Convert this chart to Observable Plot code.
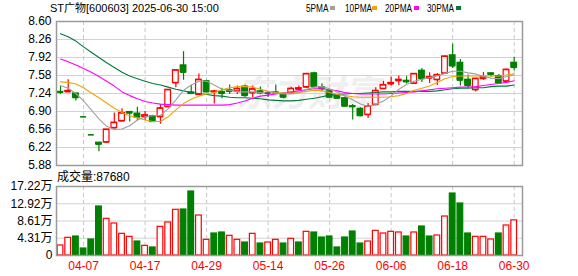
<!DOCTYPE html>
<html><head><meta charset="utf-8">
<script src="https://cdn.jsdelivr.net/npm/d3@7"></script>
<script src="https://cdn.jsdelivr.net/npm/@observablehq/plot@0.6"></script>
<style>
body{margin:0;background:#fff;}
#wrap{position:relative;width:578px;height:276px;overflow:hidden;font-family:"Liberation Sans",Arial,"Noto Sans CJK SC",sans-serif;color:#000;}
.abs{position:absolute;white-space:nowrap;line-height:1;}
.leg{position:absolute;top:3px;font-size:11px;line-height:1;transform:scaleX(0.75);transform-origin:0 0;white-space:nowrap;}
.sq{position:absolute;top:6px;width:5px;height:4px;}
svg{position:absolute;left:0;}
</style></head><body><div id="wrap">
<div class="abs" id="wm" style="left:236px;top:72px;font-size:36px;font-family:'Noto Sans CJK SC';font-weight:bold;font-style:italic;color:#efefef;">东方财富</div>
<div class="abs" id="title" style="left:50px;top:3px;font-size:11px;"></div>
<div class="leg" style="left:306px">5PMA</div><div class="sq" style="left:330px;background:#a0a0a0"></div>
<div class="leg" style="left:345px">10PMA</div><div class="sq" style="left:372px;background:#f0a30a"></div>
<div class="leg" style="left:385px">20PMA</div><div class="sq" style="left:414px;background:#ff00ff"></div>
<div class="leg" style="left:427px">30PMA</div><div class="sq" style="left:456px;background:#007a3d"></div>
<div class="abs" id="vtitle" style="left:57px;top:171px;font-size:12px;"></div>
</div>
<script>
const titleText = "ST广物[600603] 2025-06-30 15:00";
const volTitle = "成交量:87680";

const dates = ["04-01","04-02","04-03","04-07","04-08","04-09","04-10","04-11","04-14","04-15",
"04-16","04-17","04-18","04-21","04-22","04-23","04-24","04-25","04-28","04-29",
"04-30","05-06","05-07","05-08","05-09","05-12","05-13","05-14","05-15","05-16",
"05-19","05-20","05-21","05-22","05-23","05-26","05-27","05-28","05-29","05-30",
"06-03","06-04","06-05","06-06","06-09","06-10","06-11","06-12","06-13","06-16",
"06-17","06-18","06-19","06-20","06-23","06-24","06-25","06-26","06-27","06-30"];

const open = [7.27,7.27,7.24,6.80,6.46,6.31,6.32,6.59,6.72,6.89,
6.86,6.80,6.81,6.80,6.99,7.44,7.77,7.26,7.22,7.47,
7.27,7.27,7.30,7.28,7.37,7.25,7.28,7.25,7.26,7.22,
7.25,7.32,7.36,7.62,7.36,7.28,7.20,7.15,7.00,6.95,
6.84,7.03,7.33,7.42,7.48,7.48,7.43,7.67,7.53,7.50,
7.62,7.96,7.82,7.50,7.31,7.52,7.62,7.57,7.47,7.82];
const high = [7.37,7.50,7.25,6.80,6.46,6.32,6.56,6.87,6.95,6.89,
6.98,6.90,6.83,7.03,7.31,7.68,8.03,7.39,7.61,7.49,
7.30,7.34,7.40,7.38,7.40,7.38,7.36,7.28,7.40,7.25,
7.36,7.38,7.62,7.64,7.42,7.30,7.22,7.16,7.03,6.97,
7.05,7.35,7.47,7.55,7.57,7.56,7.62,7.71,7.63,7.62,
7.95,8.17,7.88,7.59,7.53,7.64,7.63,7.60,7.70,7.92];
const low = [7.22,7.26,7.10,6.80,6.46,6.14,6.31,6.57,6.71,6.70,
6.72,6.73,6.70,6.66,6.97,7.35,7.49,7.22,7.21,7.26,
7.04,7.14,7.22,7.22,7.17,7.16,7.22,7.17,7.24,7.14,
7.24,7.29,7.34,7.35,7.28,7.16,7.13,6.99,6.74,6.80,
6.77,7.01,7.32,7.38,7.39,7.42,7.42,7.45,7.43,7.39,
7.60,7.71,7.38,7.34,7.27,7.49,7.55,7.43,7.45,7.67];
const close = [7.26,7.29,7.16,6.80,6.46,6.28,6.56,6.69,6.87,6.87,
6.79,6.83,6.71,6.96,7.31,7.68,7.64,7.24,7.50,7.27,
7.28,7.24,7.28,7.33,7.20,7.32,7.25,7.25,7.25,7.17,
7.33,7.34,7.61,7.37,7.33,7.17,7.15,7.00,6.99,6.82,
7.00,7.29,7.40,7.44,7.50,7.46,7.61,7.52,7.55,7.59,
7.94,7.76,7.49,7.39,7.52,7.55,7.60,7.44,7.69,7.73];

const ma5 = [7.39,7.34,7.24,7.10,6.93,6.76,6.62,6.56,6.57,6.63,
6.74,6.80,6.82,6.83,6.95,7.12,7.30,7.40,7.47,7.47,
7.40,7.32,7.30,7.27,7.27,7.27,7.26,7.25,7.25,7.23,
7.23,7.25,7.32,7.36,7.37,7.33,7.27,7.19,7.12,7.04,
7.00,7.03,7.10,7.19,7.32,7.41,7.47,7.51,7.54,7.57,
7.62,7.66,7.66,7.63,7.61,7.56,7.53,7.52,7.56,7.59];
const ma10 = [7.46,7.45,7.42,7.35,7.25,7.16,7.06,6.96,6.88,6.82,
6.78,6.74,6.71,6.71,6.80,6.93,7.05,7.13,7.19,7.23,
7.26,7.31,7.35,7.37,7.37,7.36,7.32,7.28,7.26,7.25,
7.25,7.26,7.28,7.30,7.29,7.26,7.22,7.20,7.18,7.17,
7.17,7.17,7.17,7.18,7.20,7.24,7.30,7.34,7.38,7.45,
7.52,7.56,7.57,7.57,7.57,7.57,7.57,7.57,7.59,7.61];
const ma20 = [7.89,7.84,7.78,7.71,7.64,7.56,7.47,7.38,7.27,7.20,
7.14,7.09,7.06,7.04,7.03,7.02,7.02,7.02,7.02,7.02,
7.02,7.02,7.03,7.06,7.10,7.15,7.19,7.21,7.23,7.25,
7.27,7.29,7.31,7.33,7.33,7.31,7.29,7.26,7.24,7.23,
7.23,7.23,7.23,7.24,7.25,7.26,7.27,7.29,7.31,7.33,
7.34,7.35,7.36,7.36,7.37,7.39,7.41,7.43,7.45,7.48];
const ma30 = [8.37,8.31,8.23,8.12,8.02,7.92,7.82,7.73,7.64,7.57,
7.52,7.47,7.43,7.40,7.36,7.32,7.29,7.26,7.24,7.22,
7.20,7.19,7.17,7.16,7.16,7.15,7.14,7.12,7.11,7.10,
7.10,7.11,7.13,7.15,7.18,7.21,7.22,7.23,7.24,7.24,
7.25,7.26,7.27,7.27,7.28,7.28,7.28,7.28,7.28,7.29,
7.31,7.33,7.34,7.34,7.35,7.35,7.37,7.38,7.38,7.40];

const volume = [25000,44100,47400,17500,39900,122300,91500,79900,54100,46600,
34900,24100,20000,71500,82400,114000,114800,159700,99800,39100,
54900,57400,49100,39100,32400,54100,29900,32400,39100,29900,
41600,32400,59100,57400,44900,47400,20000,44900,59900,29900,
34900,61600,54900,59100,57400,47400,57400,72400,47400,49900,
97300,154700,129800,54900,46600,46600,39900,54900,74900,87680];
const volUp = [1,1,0,0,0,0,1,1,1,1, 0,1,0,1,1,1,0,0,1,1,
0,0,1,1,0,1,0,1,1,0, 1,0,1,0,0,0,0,0,0,0,
1,1,1,1,1,0,1,0,0,1, 1,0,0,0,1,1,1,0,1,1];

const priceTicks = [5.88,6.22,6.56,6.90,7.24,7.58,7.92,8.26,8.60];
const volTicks = [0,43050,86100,129150,172200];
const volTickLabels = ["0","4.31万","8.61万","12.92万","17.22万"];
const xTickLabels = ["04-07","04-17","04-29","05-14","05-26","06-06","06-18","06-30"];

// ---- build ----
document.getElementById("title").textContent = titleText;
document.getElementById("vtitle").textContent = volTitle;

const RED = "#ff0000", GREEN = "#008000", BLACK = "#000000";
const idx = d3.range(dates.length);
const tickIdx = xTickLabels.map(s => dates.indexOf(s));
const candles = idx.map(i => {
  let dir;
  if (close[i] > open[i]) dir = "up";
  else if (close[i] < open[i]) dir = "down";
  else if (i > 0 && close[i] < close[i-1]) dir = "down";
  else if (i > 0 && close[i] > close[i-1]) dir = "up";
  else dir = "flat";
  return {i, o: open[i], h: high[i], l: low[i], c: close[i], dir};
});
const col = d => d.dir === "up" ? RED : d.dir === "down" ? GREEN : BLACK;
const bw = 0.37;
const xDomain = [-0.52, 60.08];
const font = '"Liberation Sans", Arial, "Noto Sans CJK SC", sans-serif';

const maLine = (arr, stroke) => Plot.line(idx, {x: i => i, y: i => arr[i], stroke, strokeWidth: 1.1});

const price = Plot.plot({
  width: 578, height: 170,
  marginTop: 21, marginBottom: 5, marginLeft: 56, marginRight: 56,
  style: {background: "transparent", fontSize: "12px", fontFamily: font, color: "#000", overflow: "visible"},
  color: {type: "identity"},
  x: {type: "linear", domain: xDomain, axis: null},
  y: {domain: [5.88, 8.60], ticks: priceTicks, tickFormat: d => d.toFixed(2), tickSize: 0, tickPadding: 5, label: null},
  marks: [
    Plot.gridY(priceTicks, {stroke: "#d2d2d2", strokeOpacity: 1, strokeWidth: 1.2}),
    Plot.ruleX(tickIdx, {stroke: "#c8c8c8", strokeOpacity: 1, strokeDasharray: "4 3"}),
    Plot.ruleX(candles, {x: "i", y1: "l", y2: "h", stroke: col, strokeWidth: 1.2}),
    Plot.rect(candles, {x1: d => d.i - bw, x2: d => d.i + bw, y1: "o", y2: "c",
      fill: d => d.dir === "down" ? GREEN : "#ffffff", stroke: col, strokeWidth: 1.2}),
    Plot.ruleY(candles, {x1: d => d.i - bw, x2: d => d.i + bw, y: "o", stroke: col, strokeWidth: 1.2}),
    Plot.ruleY(candles, {x1: d => d.i - bw, x2: d => d.i + bw, y: "c", stroke: col, strokeWidth: 1.2}),
    maLine(ma30, "#007a3d"),
    maLine(ma20, "#ff00ff"),
    maLine(ma10, "#f0a30a"),
    maLine(ma5, "#a0a0a0"),
    Plot.frame({stroke: "#9a9a9a", strokeWidth: 1.5})
  ]
});
price.style.top = "0px";

const vols = idx.map(i => ({i, v: volume[i], up: volUp[i] === 1}));
const vol = Plot.plot({
  width: 578, height: 106,
  marginTop: 16, marginBottom: 21, marginLeft: 56, marginRight: 56,
  style: {background: "transparent", fontSize: "12px", fontFamily: font, color: "#000", overflow: "visible"},
  color: {type: "identity"},
  x: {type: "linear", domain: xDomain, ticks: tickIdx, tickFormat: i => dates[i], tickSize: 0, tickPadding: 6, label: null},
  y: {domain: [0, 172200], ticks: volTicks, tickFormat: d => volTickLabels[volTicks.indexOf(d)], tickSize: 0, tickPadding: 4, label: null},
  marks: [
    Plot.gridY(volTicks, {stroke: "#d2d2d2", strokeOpacity: 1, strokeWidth: 1.2}),
    Plot.ruleX(tickIdx, {stroke: "#c8c8c8", strokeOpacity: 1, strokeDasharray: "4 3"}),
    Plot.rect(vols, {x1: d => d.i - bw, x2: d => d.i + bw, y1: 0, y2: "v",
      fill: d => d.up ? "#ffffff" : GREEN, stroke: d => d.up ? RED : GREEN, strokeWidth: 1.2}),
    Plot.frame({stroke: "#9a9a9a", strokeWidth: 1.5})
  ]
});
vol.style.top = "170px";

const wrap = document.getElementById("wrap");
wrap.appendChild(price);
wrap.appendChild(vol);
vol.querySelectorAll("text").forEach(t => {
  if (xTickLabels.includes(t.textContent)) t.setAttribute("fill", RED);
});
</script>
</body></html>
